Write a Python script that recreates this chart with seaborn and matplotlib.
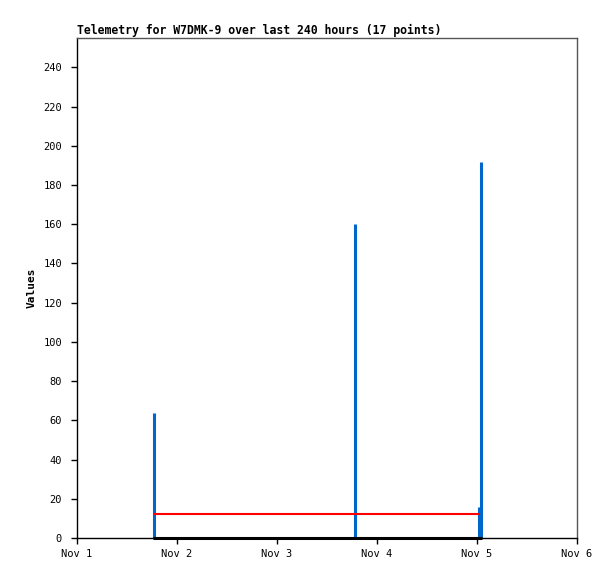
import pandas as pd
import matplotlib
matplotlib.use("Agg")
import matplotlib.pyplot as plt
import matplotlib.dates as mdates
import seaborn as sns

# telemetry channels
spike_times = ["2023-11-01 18:22", "2023-11-03 18:38", "2023-11-05 00:33", "2023-11-05 00:53"]
spike_values = [64, 160, 16, 192]

line_times = ["2023-11-01 18:22", "2023-11-03 18:38", "2023-11-05 00:33"]
red_values = [12, 12, 12]
black_times = ["2023-11-01 18:22", "2023-11-03 18:38", "2023-11-05 00:53"]
black_values = [0, 0, 0]

x_start, x_end = "2023-11-01", "2023-11-06"
y_max = 255
y_ticks = list(range(0, 241, 20))

sns.set_theme(style="white")
plt.rcParams["font.family"] = ["DejaVu Sans Mono"]
plt.rcParams["text.color"] = "black"
plt.rcParams["axes.labelcolor"] = "black"

red_df = pd.DataFrame({"time": pd.to_datetime(line_times), "value": red_values})
black_df = pd.DataFrame({"time": pd.to_datetime(black_times), "value": black_values})

fig = plt.figure(figsize=(6.15, 5.79), dpi=100)
ax = fig.add_axes([77 / 615, 41 / 579, 500 / 615, 500 / 579])

ax.vlines(pd.to_datetime(spike_times), 0, spike_values, color="#0066cc", linewidth=2.2)
sns.lineplot(data=red_df, x="time", y="value", color="#ff0000", linewidth=1.5, ax=ax)
sns.lineplot(data=black_df, x="time", y="value", color="black", linewidth=2.2, ax=ax, clip_on=False)

ax.set_xlim(pd.Timestamp(x_start), pd.Timestamp(x_end))
ax.set_ylim(0, y_max)
ax.set_yticks(y_ticks)
ax.xaxis.set_major_locator(mdates.DayLocator())
ax.xaxis.set_major_formatter(mdates.DateFormatter("%b %-d"))

ax.tick_params(axis="both", which="major", direction="out", length=4.3, width=1,
               color="black", labelsize=7.5, labelcolor="black", left=True, bottom=True)
ax.tick_params(axis="y", pad=6.5)
ax.tick_params(axis="x", pad=3.5)
for side in ["top", "right"]:
    ax.spines[side].set_color("#555555")
for side in ["left", "bottom"]:
    ax.spines[side].set_color("black")
for s in ax.spines.values():
    s.set_linewidth(1)

ax.set_xlabel("")
ax.set_ylabel("Values", fontsize=8, fontweight="bold", labelpad=5)
ax.set_title("Telemetry for W7DMK-9 over last 240 hours (17 points)",
             loc="left", fontsize=8.3, fontweight="bold", pad=3)

fig.savefig("out.png", dpi=100)
